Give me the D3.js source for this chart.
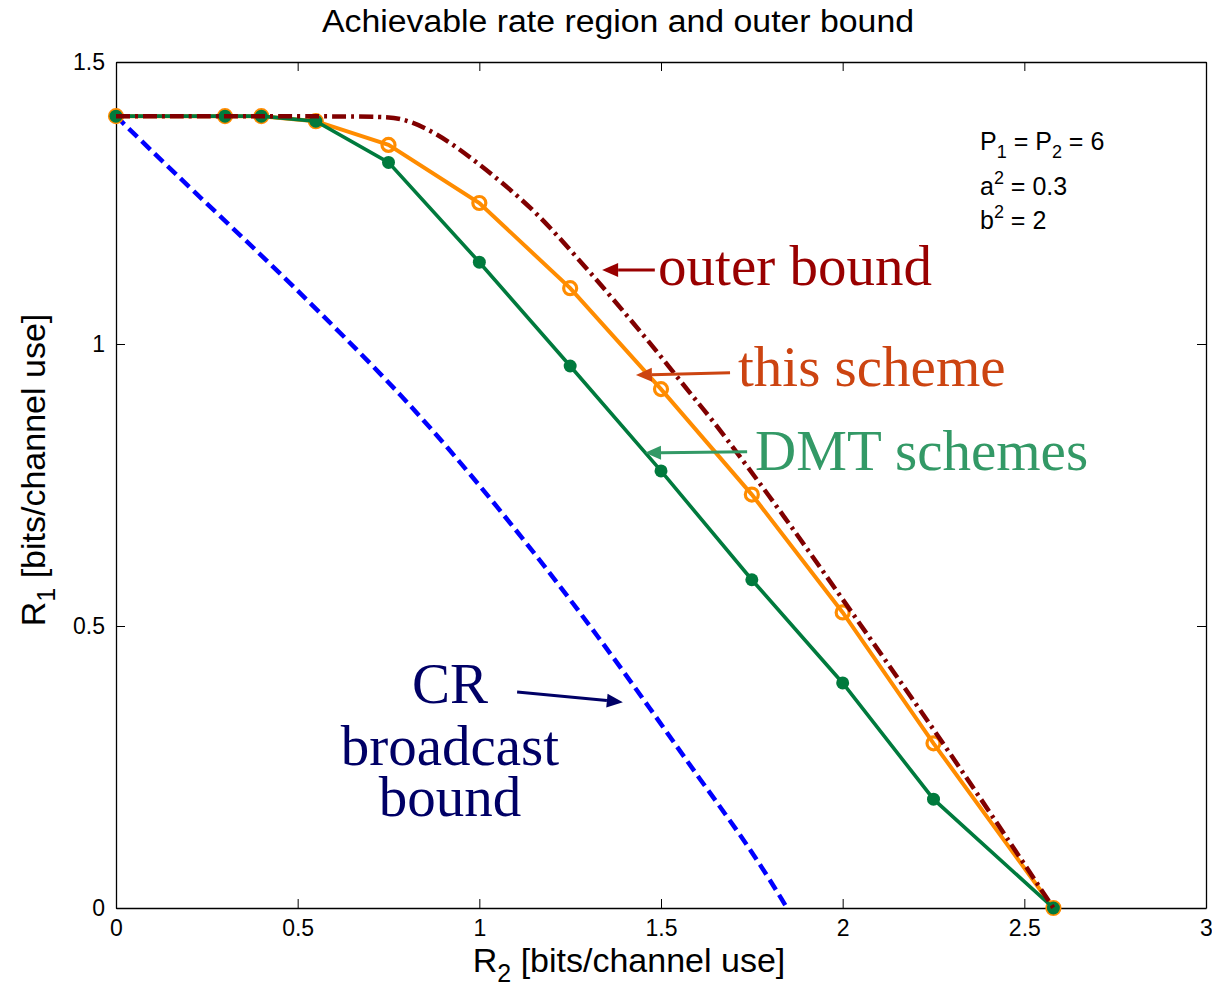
<!DOCTYPE html>
<html>
<head>
<meta charset="utf-8">
<script src="https://cdn.jsdelivr.net/npm/d3@7"></script>
<style>
  body { margin: 0; background: #fff; }
  svg { display: block; }
</style>
</head>
<body>
<div id="chart"></div>
<script>
// ---- data ----
const xTicks = [0, 0.5, 1, 1.5, 2, 2.5, 3];
const yTicks = [0, 0.5, 1, 1.5];

const schemeR2 = [0, 0.3, 0.4, 0.55, 0.75, 1, 1.25, 1.5, 1.75, 2, 2.25, 2.58];
const schemeR1 = [1.404, 1.404, 1.404, 1.395, 1.353, 1.25, 1.099, 0.92, 0.733, 0.524, 0.292, 0];

const dmtR2 = [0, 0.3, 0.4, 0.55, 0.75, 1, 1.25, 1.5, 1.75, 2, 2.25, 2.58];
const dmtR1 = [1.404, 1.404, 1.404, 1.395, 1.322, 1.145, 0.961, 0.775, 0.582, 0.399, 0.193, 0];

const outerR2 = [0, 0.72, 0.79, 0.883, 0.974, 1.065, 1.159, 1.25, 1.34, 1.42, 1.5, 1.588, 1.643, 1.847, 2.0, 2.295, 2.58];
const outerR1 = [1.404, 1.404, 1.401, 1.374, 1.332, 1.285, 1.232, 1.167, 1.101, 1.04, 0.978, 0.906, 0.865, 0.688, 0.547, 0.277, 0];

const crR2 = [0, 0.094, 0.212, 0.35, 0.487, 0.625, 0.79, 0.911, 1.049, 1.186, 1.324, 1.47, 1.607, 1.745, 1.847];
const crR1 = [1.404, 1.345, 1.272, 1.188, 1.103, 1.015, 0.906, 0.818, 0.712, 0.601, 0.484, 0.354, 0.228, 0.107, 0];

// annotations (data coordinates)
const notes = [
  { lines: ["outer bound"], color: "#990000", x: 1.492, y: [1.105], anchor: "start",
    from: [1.483, 1.131], to: [1.338, 1.131] },
  { lines: ["this scheme"], color: "#CC4411", x: 1.712, y: [0.926], anchor: "start",
    from: [1.690, 0.949], to: [1.431, 0.945] },
  { lines: ["DMT schemes"], color: "#339966", x: 1.759, y: [0.777], anchor: "start",
    from: [1.737, 0.809], to: [1.456, 0.807] },
  { lines: ["CR", "broadcast", "bound"], color: "#000066", x: 0.919, y: [0.363, 0.254, 0.163], anchor: "middle",
    from: [1.104, 0.383], to: [1.395, 0.365] }
];

// ---- layout ----
const W = 1212, H = 987;
const mLeft = 116, mRight = 1206, mTop = 62, mBottom = 908;

const svg = d3.select("#chart").append("svg").attr("width", W).attr("height", H);

const x = d3.scaleLinear().domain([0, 3]).range([mLeft, mRight]);
const y = d3.scaleLinear().domain([0, 1.5]).range([mBottom, mTop]);

// axes
const tickFont = "Arial, 'Liberation Sans', sans-serif";
const fmt = d3.format("~g");
function styleAxis(g, showLabels) {
  g.select(".domain").attr("stroke", "#000").attr("stroke-width", 1.3);
  g.selectAll(".tick line").attr("stroke", "#000").attr("stroke-width", 1);
  g.selectAll(".tick text").attr("font-family", tickFont).attr("font-size", 23).attr("fill", "#000");
  if (!showLabels) g.selectAll(".tick text").remove();
}
svg.append("g").attr("transform", `translate(0,${mBottom})`)
  .call(d3.axisBottom(x).tickValues(xTicks).tickFormat(fmt).tickSizeInner(-9).tickSizeOuter(0).tickPadding(12))
  .call(g => styleAxis(g, true));
svg.append("g").attr("transform", `translate(0,${mTop})`)
  .call(d3.axisTop(x).tickValues(xTicks).tickSizeInner(-9).tickSizeOuter(0))
  .call(g => styleAxis(g, false));
svg.append("g").attr("transform", `translate(${mLeft},0)`)
  .call(d3.axisLeft(y).tickValues(yTicks).tickFormat(fmt).tickSizeInner(-9).tickSizeOuter(0).tickPadding(11))
  .call(g => styleAxis(g, true));
svg.append("g").attr("transform", `translate(${mRight},0)`)
  .call(d3.axisRight(y).tickValues(yTicks).tickSizeInner(-9).tickSizeOuter(0))
  .call(g => styleAxis(g, false));

// lines
const zip = (a, b) => a.map((v, i) => [v, b[i]]);
const line = d3.line().x(d => x(d[0])).y(d => y(d[1]));
const smooth = d3.line().x(d => x(d[0])).y(d => y(d[1])).curve(d3.curveBasis);

const plot = svg.append("g");

plot.append("path").datum(zip(crR2, crR1)).attr("d", smooth)
  .attr("fill", "none").attr("stroke", "#0000FF").attr("stroke-width", 4.5)
  .attr("stroke-dasharray", "12,6");

const schemeData = zip(schemeR2, schemeR1);
plot.append("path").datum(schemeData).attr("d", line)
  .attr("fill", "none").attr("stroke", "#FF8C00").attr("stroke-width", 4);
plot.selectAll("circle.scheme").data(schemeData).join("circle").attr("class", "scheme")
  .attr("cx", d => x(d[0])).attr("cy", d => y(d[1])).attr("r", 6.5)
  .attr("fill", "none").attr("stroke", "#FF8C00").attr("stroke-width", 3.2);

const dmtData = zip(dmtR2, dmtR1);
plot.append("path").datum(dmtData).attr("d", line)
  .attr("fill", "none").attr("stroke", "#007A3D").attr("stroke-width", 3.6);
plot.selectAll("circle.dmt").data(dmtData).join("circle").attr("class", "dmt")
  .attr("cx", d => x(d[0])).attr("cy", d => y(d[1])).attr("r", 6.5)
  .attr("fill", "#007A3D").attr("stroke", "none");

plot.append("path").datum(zip(outerR2, outerR1)).attr("d", smooth)
  .attr("fill", "none").attr("stroke", "#800000").attr("stroke-width", 4.5)
  .attr("stroke-dasharray", "14,5,3,5");

// text annotations
const serif = "'Liberation Serif', 'Times New Roman', serif";
notes.forEach(n => {
  const x1 = x(n.from[0]), y1 = y(n.from[1]), x2 = x(n.to[0]), y2 = y(n.to[1]);
  const ang = Math.atan2(y2 - y1, x2 - x1);
  const L = 16, Wd = 7;
  const bx = x2 - L * Math.cos(ang), by = y2 - L * Math.sin(ang);
  svg.append("line").attr("x1", x1).attr("y1", y1).attr("x2", bx).attr("y2", by)
    .attr("stroke", n.color).attr("stroke-width", 3);
  svg.append("path")
    .attr("d", `M${x2},${y2}L${bx + Wd * Math.sin(ang)},${by - Wd * Math.cos(ang)}L${bx - Wd * Math.sin(ang)},${by + Wd * Math.cos(ang)}Z`)
    .attr("fill", n.color);
  n.lines.forEach((t, i) => {
    svg.append("text").attr("x", x(n.x)).attr("y", y(n.y[i]))
      .attr("text-anchor", n.anchor).attr("font-family", serif).attr("font-size", 57)
      .attr("fill", n.color).text(t);
  });
});

// parameter box text
const sans = "Arial, 'Liberation Sans', sans-serif";
const p1 = svg.append("text").attr("x", 980).attr("y", 150).attr("font-family", sans).attr("font-size", 25);
p1.append("tspan").text("P");
p1.append("tspan").attr("dy", 8).attr("font-size", 18).text("1");
p1.append("tspan").attr("dy", -8).text(" = P");
p1.append("tspan").attr("dy", 8).attr("font-size", 18).text("2");
p1.append("tspan").attr("dy", -8).text(" = 6");
const p2 = svg.append("text").attr("x", 980).attr("y", 195).attr("font-family", sans).attr("font-size", 25);
p2.append("tspan").text("a");
p2.append("tspan").attr("dy", -11).attr("font-size", 18).text("2");
p2.append("tspan").attr("dy", 11).text(" = 0.3");
const p3 = svg.append("text").attr("x", 980).attr("y", 229).attr("font-family", sans).attr("font-size", 25);
p3.append("tspan").text("b");
p3.append("tspan").attr("dy", -11).attr("font-size", 18).text("2");
p3.append("tspan").attr("dy", 11).text(" = 2");

// title
svg.append("text").attr("x", 618).attr("y", 32).attr("text-anchor", "middle")
  .attr("font-family", sans).attr("font-size", 31)
  .attr("textLength", 592).attr("lengthAdjust", "spacingAndGlyphs")
  .text("Achievable rate region and outer bound");

// x label
const xl = svg.append("text").attr("x", 629).attr("y", 972).attr("text-anchor", "middle")
  .attr("font-family", sans).attr("font-size", 34);
xl.append("tspan").text("R");
xl.append("tspan").attr("dy", 10).attr("font-size", 25).text("2");
xl.append("tspan").attr("dy", -10).text(" [bits/channel use]");

// y label
const yl = svg.append("text").attr("transform", "translate(45,470) rotate(-90)").attr("text-anchor", "middle")
  .attr("font-family", sans).attr("font-size", 34);
yl.append("tspan").text("R");
yl.append("tspan").attr("dy", 10).attr("font-size", 25).text("1");
yl.append("tspan").attr("dy", -10).text(" [bits/channel use]");
</script>
</body>
</html>
